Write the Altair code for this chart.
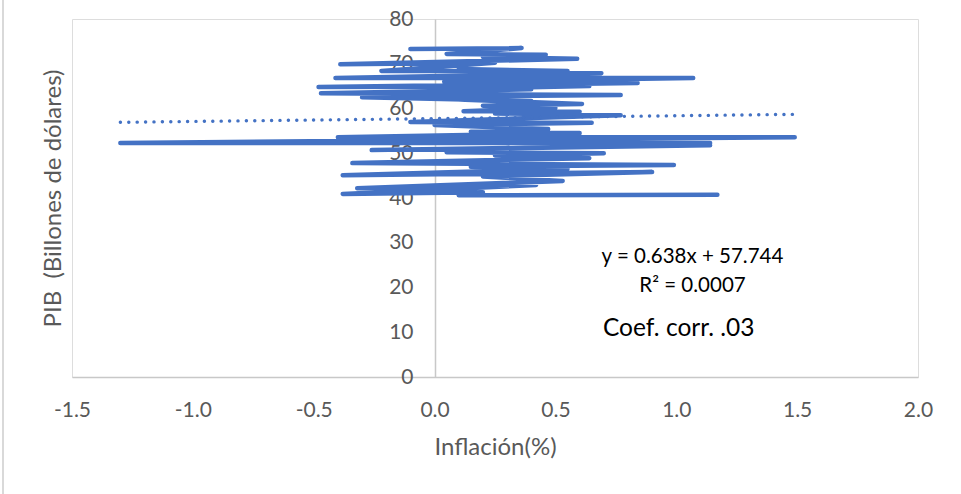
import altair as alt
import pandas as pd

# Inflation (%) and GDP (billions), in series order
inflacion = [-0.10, 0.36, 0.05, 0.46, 0.20, 0.59, -0.39, 0.25, -0.22, 0.55,
             0.10, 0.69, -0.41, 1.07, 0.04, 0.84, -0.48, 0.64, 0.15, 0.40,
             -0.47, 0.77, -0.30, 0.40, 0.10, 0.61, 0.20, 0.50, 0.12, 0.60,
             0.25, 0.77, -0.10, 0.65, 0.00, 0.47, 0.15, 0.60, -0.40, 1.49,
             -1.30, 1.14, -0.10, 1.14, -0.26, 0.31, 0.05, 0.70, 0.25, 0.64,
             -0.34, 0.99, 0.15, 0.55, -0.38, 0.90, 0.20, 0.53, -0.32, 0.42,
             -0.38, 0.20, 0.10, 1.17]
pib = [73.3, 73.5, 72.2, 72.0, 71.5, 71.1, 69.9, 70.2, 68.4, 68.4,
       68.8, 67.9, 66.8, 66.8, 66.0, 65.7, 64.8, 65.0, 64.5, 64.3,
       63.4, 63.0, 62.5, 61.7, 62.0, 61.0, 60.6, 60.1, 59.4, 59.3,
       58.9, 58.5, 57.0, 56.8, 56.3, 55.4, 54.8, 54.5, 53.6, 53.6,
       52.3, 52.3, 52.5, 51.8, 50.7, 51.2, 50.2, 50.0, 49.5, 48.9,
       47.8, 47.4, 47.0, 46.5, 45.1, 45.8, 44.8, 43.8, 42.2, 42.9,
       40.9, 41.3, 40.6, 40.7]

slope = 0.638
intercept = 57.744

x_ticks = [-1.5, -1.0, -0.5, 0.0, 0.5, 1.0, 1.5, 2.0]
y_ticks = [0, 10, 20, 30, 40, 50, 60, 70, 80]

annot_text = ["y = 0.638x + 57.744", "R² = 0.0007", "Coef. corr. .03"]
annot_x = [1.067, 1.067, 1.01]
annot_y = [26.8, 20.3, 10.7]
annot_size = [20.5, 20.5, 24.5]

df = pd.DataFrame({"x": inflacion, "y": pib, "i": range(len(pib))})
tx = [min(inflacion), max(inflacion)]
trend = pd.DataFrame({"x": tx, "y": [slope * v + intercept for v in tx]})
ann = pd.DataFrame({"t": annot_text, "x": annot_x, "y": annot_y, "s": annot_size})

FONT = "Lato"
GRAY = "#595959"

xscale = alt.Scale(domain=[-1.5, 2.0], nice=False, zero=False)
yscale = alt.Scale(domain=[0, 80], nice=False)

xaxis = alt.Axis(values=x_ticks, grid=False, ticks=False, labelFlush=False,
                 labelExpr="replace(format(datum.value, '.1f'), '\u2212', '-')",
                 domainColor="#c8c8c8", domainWidth=1.5,
                 labelColor=GRAY, labelFont=FONT, labelFontSize=21,
                 labelPadding=22, title="Inflación(%)", titleColor=GRAY,
                 titleFont=FONT, titleFontSize=24, titleFontWeight="normal",
                 titlePadding=15)
yaxis = alt.Axis(values=y_ticks, grid=False, ticks=False, offset=-363,
                 labelFlush=False,
                 domainColor="#c8c8c8", domainWidth=1.5,
                 labelColor=GRAY, labelFont=FONT, labelFontSize=21,
                 labelPadding=22, title="PIB \u00a0(Billones de dólares)",
                 titleColor=GRAY, titleFont=FONT, titleFontSize=24,
                 titleFontWeight="normal", titleX=-382, titleY=179,
                 titleAlign="center", titleBaseline="middle", titleAngle=-90)

line = alt.Chart(df).mark_line(color="#4472C4", strokeWidth=4.5,
                               strokeCap="round", strokeJoin="round").encode(
    x=alt.X("x:Q", scale=xscale, axis=xaxis),
    y=alt.Y("y:Q", scale=yscale, axis=yaxis),
    order=alt.Order("i:Q"),
)

trend_line = alt.Chart(trend).mark_line(color="#4472C4", strokeWidth=3.4,
                                        strokeCap="round",
                                        strokeDash=[0.1, 8.3]).encode(
    x=alt.X("x:Q", scale=xscale),
    y=alt.Y("y:Q", scale=yscale),
)

texts = alt.Chart(ann).mark_text(font=FONT, color="#000000", align="center",
                                 baseline="middle").encode(
    x=alt.X("x:Q", scale=xscale),
    y=alt.Y("y:Q", scale=yscale),
    text="t:N",
    size=alt.Size("s:Q", scale=None, legend=None),
)

border = alt.Chart(pd.DataFrame({"a": [0]})).mark_rule(
    color="#d9d9d9", strokeWidth=2).encode(
    x=alt.value(-69), y=alt.value(-19), y2=alt.value(475))

chart = alt.layer(line, trend_line, texts, border).properties(
    width=846, height=358,
    autosize=alt.AutoSizeParams(type="none"),
    padding={"left": 72, "top": 19, "right": 43, "bottom": 117},
).configure_view(stroke=None).configure(background="white")

chart.save("out.html", embed_options={"renderer": "svg", "actions": False})
